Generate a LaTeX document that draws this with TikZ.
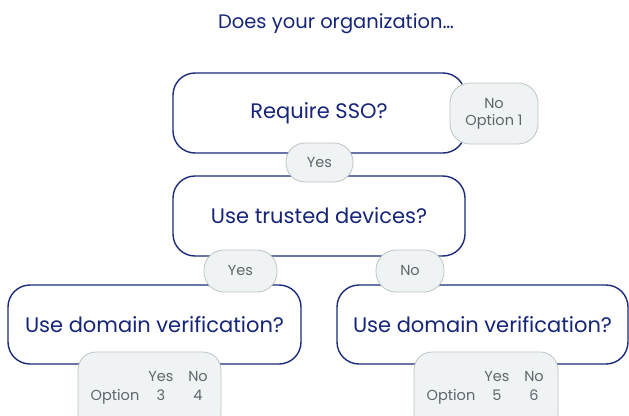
\documentclass[tikz,border=0pt]{standalone}
\usepackage{fontspec}
\setmainfont{Poppins}
\definecolor{navy}{HTML}{1B2A7A}
\definecolor{navytext}{HTML}{16257A}
\definecolor{pillfill}{HTML}{EFF3F3}
\definecolor{pillline}{HTML}{BFC4C4}
\definecolor{pilltext}{HTML}{5F656D}
\tikzset{
  qbox/.style={draw=navy, line width=1.4pt, fill=white, rounded corners=22pt, inner sep=0pt,
    text=navytext, font=\fontsize{21}{25}\selectfont},
  pill/.style={draw=pillline, line width=0.8pt, fill=pillfill, rounded corners=17pt, inner sep=0pt,
    text=pilltext, font=\fontsize{14.5}{17}\selectfont, align=center},
  opt/.style={text=pilltext, font=\fontsize{14.5}{17}\selectfont, inner sep=0pt, anchor=base},
}
\begin{document}
\begin{tikzpicture}[x=1pt,y=-1pt]
\useasboundingbox (0,0) rectangle (629,415);
\clip (0,0) rectangle (629,415);
\node[text=navytext, font=\fontsize{19.5}{23}\selectfont, anchor=base] (title) at (336,28) {Does your organization…};
% question boxes
\node[qbox, minimum width=292pt, minimum height=80pt] (sso) at (319,113) {Require SSO?};
\node[qbox, minimum width=292pt, minimum height=80pt] (trusted) at (319,216) {Use trusted devices?};
\node[qbox, minimum width=293pt, minimum height=79pt] (domL) at (154.5,324.5) {Use domain verification?};
\node[qbox, minimum width=291pt, minimum height=79pt] (domR) at (482.5,324.5) {Use domain verification?};
% pills
\node[pill, minimum width=88pt, minimum height=61pt, rounded corners=20pt, font=\fontsize{14.5}{18}\selectfont] (no1) at (494,113.5) {No\\[-1pt]Option 1};
\node[pill, minimum width=67pt, minimum height=39pt, rounded corners=19pt] (yes1) at (319.5,162.5) {Yes};
\node[pill, minimum width=73pt, minimum height=42pt, rounded corners=20pt] (yes2) at (240.5,271) {Yes};
\node[pill, minimum width=68pt, minimum height=42pt, rounded corners=20pt] (no2) at (410,271) {No};
% option boxes
\node[pill, minimum width=143pt, minimum height=80pt, rounded corners=18pt] (optL) at (149.5,392) {};
\node[pill, minimum width=144pt, minimum height=80pt, rounded corners=18pt] (optR) at (486,392) {};
\node[opt] (yL) at (161,381) {Yes};
\node[opt] (nL) at (198,381) {No};
\node[opt] (oL) at (115,400) {Option};
\node[opt] (o3) at (161,400) {3};
\node[opt] (o4) at (198,400) {4};
\node[opt] (yR) at (497,381) {Yes};
\node[opt] (nR) at (534,381) {No};
\node[opt] (oR) at (451,400) {Option};
\node[opt] (o5) at (497,400) {5};
\node[opt] (o6) at (534,400) {6};
\end{tikzpicture}
\end{document}
